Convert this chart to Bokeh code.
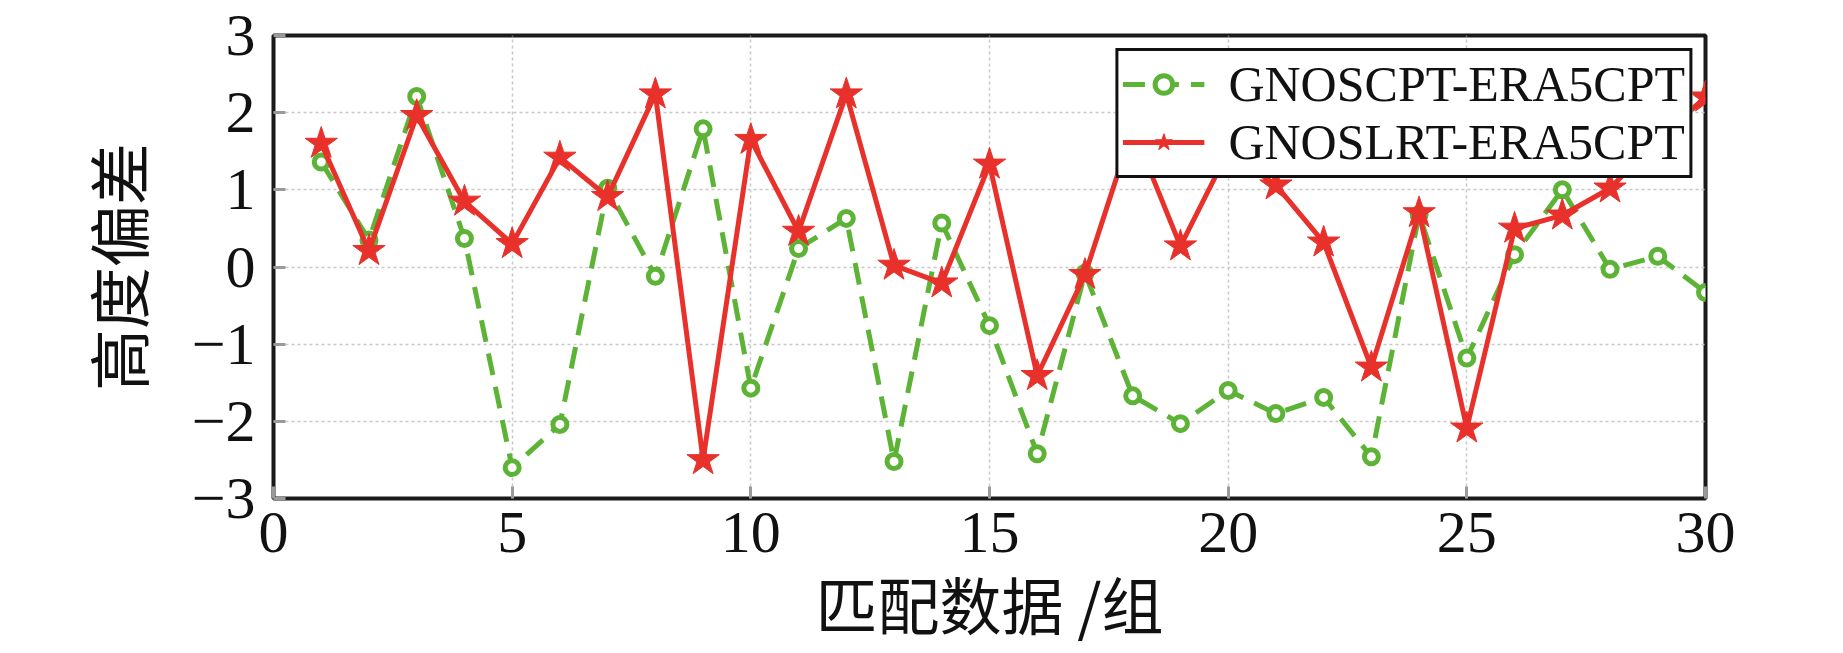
from bokeh.plotting import figure
from bokeh.models import FixedTicker, Legend, LegendItem
from bokeh.embed import file_html
from bokeh.resources import INLINE

# ---- data ----
groups = list(range(1, 31))
gnoscpt = [1.36, 0.35, 2.21, 0.37, -2.60, -2.04, 1.02, -0.12, 1.79, -1.57,
           0.24, 0.63, -2.52, 0.57, -0.76, -2.42, -0.08, -1.67, -2.03, -1.60,
           -1.90, -1.69, -2.46, 0.68, -1.18, 0.16, 1.00, -0.03, 0.14, -0.33]
gnoslrt = [1.60, 0.21, 1.96, 0.85, 0.30, 1.42, 0.91, 2.24, -2.50, 1.65,
           0.46, 2.24, 0.02, -0.21, 1.33, -1.41, -0.10, 1.80, 0.27, 1.50,
           1.06, 0.32, -1.30, 0.70, -2.09, 0.50, 0.67, 1.02, 1.65, 2.20]
x_ticks = [0, 5, 10, 15, 20, 25, 30]
y_ticks = [-3, -2, -1, 0, 1, 2, 3]
y_tick_labels = ["\u22123", "\u22122", "\u22121", "0", "1", "2", "3"]
series_names = ["GNOSCPT-ERA5CPT", "GNOSLRT-ERA5CPT"]
x_title = "匹配数据 /组"
y_title = "高度偏差"

GREEN = "#5cb336"
RED = "#e8312b"
TICK_FONT = "Liberation Serif"
CJK_FONT = "Noto Sans CJK SC"

p = figure(frame_width=1432, frame_height=463,
           x_range=(0, 30), y_range=(-3, 3),
           output_backend="svg", toolbar_location=None,
           min_border_left=273, min_border_top=35,
           min_border_right=130, min_border_bottom=145,
           x_axis_label=x_title, y_axis_label=y_title,
           background_fill_color="white", border_fill_color="white")

p.outline_line_color = "#1a1a1a"
p.outline_line_width = 4
p.outline_line_alpha = 1.0

p.xaxis.ticker = FixedTicker(ticks=x_ticks)
p.yaxis.ticker = FixedTicker(ticks=y_ticks)
p.yaxis.major_label_overrides = {t: lab for t, lab in zip(y_ticks, y_tick_labels)}

for ax in list(p.xaxis) + list(p.yaxis):
    ax.axis_line_color = None
    ax.major_tick_in = 12
    ax.major_tick_out = 0
    ax.major_tick_line_color = "#9a9a9a"
    ax.major_tick_line_width = 3
    ax.minor_tick_line_color = None
    ax.major_label_text_font = TICK_FONT
    ax.major_label_text_color = "#111111"
    ax.major_label_text_font_size = "60px"
    ax.axis_label_text_font = CJK_FONT
    ax.axis_label_text_font_size = "62px"
    ax.axis_label_text_font_style = "normal"
    ax.axis_label_text_color = "#111111"

for ax in p.xaxis:
    ax.major_label_standoff = 14
    ax.axis_label_standoff = 3
for ax in p.yaxis:
    ax.major_label_standoff = 18
    ax.axis_label_standoff = 27

for g in (p.xgrid, p.ygrid):
    g.grid_line_color = "#c8c8c8"
    g.grid_line_dash = "3 3"
    g.grid_line_width = 1.5
p.xgrid.ticker = FixedTicker(ticks=x_ticks)
p.ygrid.ticker = FixedTicker(ticks=y_ticks)

gl = p.line(groups, gnoscpt, line_color=GREEN, line_width=5, line_dash="22 12")
gs = p.scatter(groups, gnoscpt, marker="circle", size=14, line_color=GREEN,
               fill_color="white", line_width=5)
rl = p.line(groups, gnoslrt, line_color=RED, line_width=5)
rs = p.scatter(groups, gnoslrt, marker="star", size=34, line_color=RED,
               fill_color=RED, line_width=1)

legend = Legend(items=[LegendItem(label=series_names[0], renderers=[gl, gs]),
                       LegendItem(label=series_names[1], renderers=[rl, rs])],
                location="top_right")
legend.label_text_font = TICK_FONT
legend.label_text_font_size = "50px"
legend.label_text_color = "#111111"
legend.border_line_color = "#111111"
legend.border_line_width = 3
legend.border_line_alpha = 1.0
legend.background_fill_alpha = 1.0
legend.padding = 4
legend.spacing = 0
legend.glyph_width = 82
legend.glyph_height = 44
legend.label_height = 44
legend.label_standoff = 24
legend.margin = 13
p.add_layout(legend)

open("out.html", "w").write(file_html(p, INLINE))
